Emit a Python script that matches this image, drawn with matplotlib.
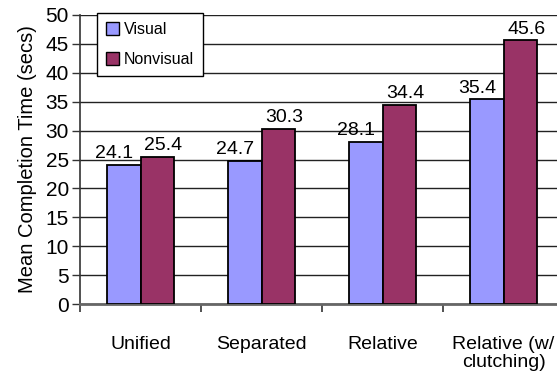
import matplotlib
matplotlib.use("Agg")
import matplotlib.pyplot as plt
from matplotlib.patches import Patch
import numpy as np

categories = ["Unified", "Separated", "Relative", "Relative (w/\nclutching)"]
visual = [24.1, 24.7, 28.1, 35.4]
nonvisual = [25.4, 30.3, 34.4, 45.6]
series_names = ["Visual", "Nonvisual"]
yticks = [0, 5, 10, 15, 20, 25, 30, 35, 40, 45, 50]

plt.rcParams['font.family'] = ['Liberation Sans', 'DejaVu Sans']

W, H = 557, 374
fig = plt.figure(figsize=(W/100, H/100), dpi=100)
left, right, bottom, top = 80, 564, 304, 15
ax = fig.add_axes([left/W, 1 - bottom/H, (right-left)/W, (bottom-top)/H])

x = np.arange(len(categories))
bw = 0.28
c_vis = "#9999FF"
c_non = "#993366"
ax.bar(x - bw/2, visual, bw, color=c_vis, edgecolor="black", linewidth=1.3, zorder=3)
ax.bar(x + bw/2, nonvisual, bw, color=c_non, edgecolor="black", linewidth=1.3, zorder=3)

for xi, v in zip(x, visual):
    ax.annotate(f"{v}", (xi - bw/2 - 0.08, v), xytext=(0, 2), textcoords="offset points",
                ha="center", va="bottom", fontsize=14, color="black")
for xi, v in zip(x, nonvisual):
    ax.annotate(f"{v}", (xi + bw/2 + 0.05, v), xytext=(0, 2), textcoords="offset points",
                ha="center", va="bottom", fontsize=14, color="black")

ax.set_xlim(-0.5, 3.5)
ax.set_ylim(0, 50)
ax.set_yticks(yticks)
ax.set_yticklabels([str(t) for t in yticks], fontsize=15)
ax.yaxis.grid(True, color="#222222", linewidth=1.0, zorder=0)
ax.set_axisbelow(True)

ax.set_xticks(x)
ax.set_xticklabels(categories, fontsize=14, linespacing=1.1)
ax.tick_params(axis="x", which="major", length=0, pad=23)
ax.set_xticks(np.arange(-0.5, 4.0, 1.0), minor=True)
ax.tick_params(axis="x", which="minor", length=6, width=1.2, color="#333333", direction="out")
ax.tick_params(axis="y", length=6, width=1.0, color="#333333", direction="out", pad=2)

for s in ["top", "right"]:
    ax.spines[s].set_visible(False)
ax.spines["left"].set_color("#333333")
ax.spines["left"].set_linewidth(1.2)
ax.spines["bottom"].set_color("#666666")
ax.spines["bottom"].set_linewidth(2)

ax.set_ylabel("Mean Completion Time (secs)", fontsize=14.5, labelpad=6)

handles = [Patch(facecolor=c_vis, edgecolor="black", linewidth=1.0),
           Patch(facecolor=c_non, edgecolor="black", linewidth=1.0)]
leg = fig.legend(handles, series_names, loc="upper left",
                 bbox_to_anchor=(97/W, 1 - 13/H), fontsize=11.5, frameon=True,
                 fancybox=False, edgecolor="black", framealpha=1,
                 handlelength=0.85, handleheight=0.85, handletextpad=0.3,
                 labelspacing=0.95, borderpad=0.55, borderaxespad=0)
leg.get_frame().set_linewidth(1.0)

fig.savefig("out.png", dpi=100)
